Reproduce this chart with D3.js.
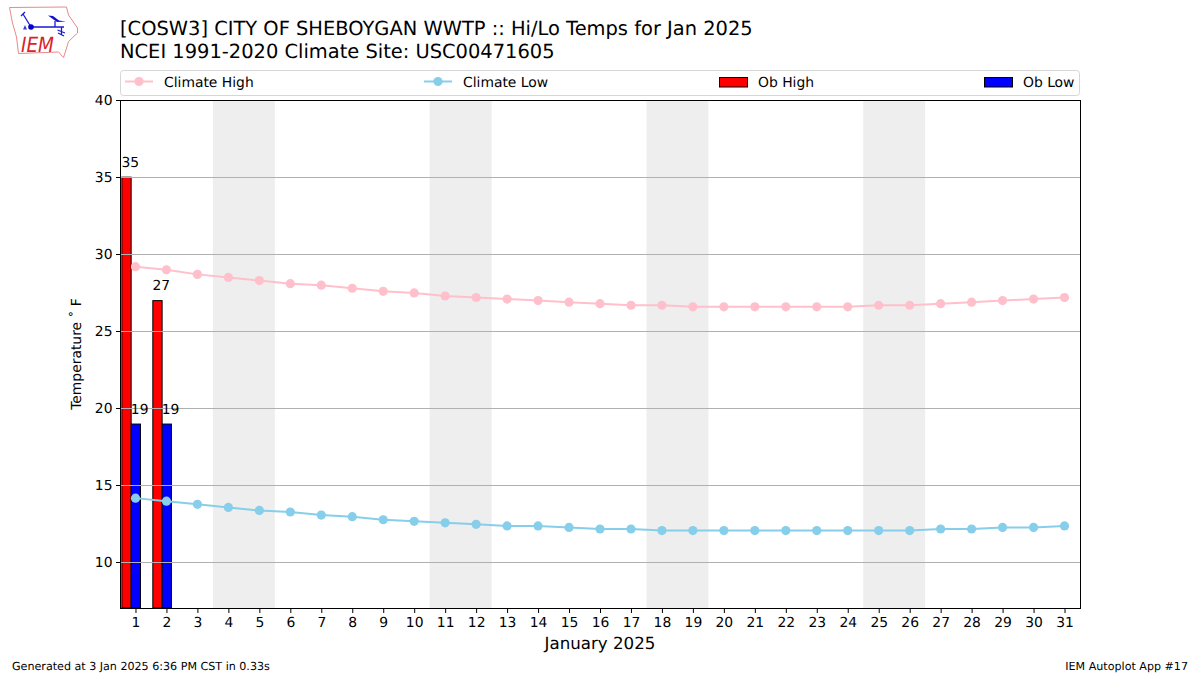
<!DOCTYPE html>
<html><head><meta charset="utf-8">
<script src="https://cdn.jsdelivr.net/npm/d3@7"></script>
<style>html,body{margin:0;padding:0;background:#fff}svg{display:block}text{font-family:"DejaVu Sans",sans-serif;fill:#000;text-rendering:geometricPrecision}</style>
</head><body><svg id="c" width="1200" height="675"></svg>
<script>
const days = d3.range(1, 32);
const climateHigh = [29.2,29.0,28.7,28.5,28.3,28.1,28.0,27.8,27.6,27.5,27.3,27.2,27.1,27.0,26.9,26.8,26.7,26.7,26.6,26.6,26.6,26.6,26.6,26.6,26.7,26.7,26.8,26.9,27.0,27.1,27.2];
const climateLow = [14.2,14.0,13.8,13.6,13.4,13.3,13.1,13.0,12.8,12.7,12.6,12.5,12.4,12.4,12.3,12.2,12.2,12.1,12.1,12.1,12.1,12.1,12.1,12.1,12.1,12.1,12.2,12.2,12.3,12.3,12.4];
const obDays = [1, 2];
const obHigh = [35, 27];
const obLow = [19, 19];
const weekends = [[3.5,5.5],[10.5,12.5],[17.5,19.5],[24.5,26.5]];
const yTicks = [10,15,20,25,30,35,40];
const titleLines = ["[COSW3] CITY OF SHEBOYGAN WWTP :: Hi/Lo Temps for Jan 2025","NCEI 1991-2020 Climate Site: USC00471605"];

const svg = d3.select("#c");
const M = {l:120,r:1080,t:100,b:608};
const x = d3.scaleLinear().domain([0.5,31.5]).range([M.l,M.r]);
const y = d3.scaleLinear().domain([7.08,40]).range([M.b,M.t]);
const snap = v => Math.floor(v)+.5;
const barW = 0.3;

// weekend bands
svg.append("g").selectAll("rect").data(weekends).join("rect")
  .attr("x",d=>x(d[0])).attr("width",d=>x(d[1])-x(d[0]))
  .attr("y",M.t).attr("height",M.b-M.t).attr("fill","#eeeeee");

// bars
const bars = svg.append("g").attr("stroke","#000").attr("stroke-width",1);
bars.selectAll(".hi").data(obDays).join("rect").attr("class","hi")
  .attr("x",d=>x(d-0.44)).attr("width",x(barW)-x(0))
  .attr("y",(d,i)=>y(obHigh[i])).attr("height",(d,i)=>M.b-y(obHigh[i])).attr("fill","#ff0000");
bars.selectAll(".lo").data(obDays).join("rect").attr("class","lo")
  .attr("x",d=>x(d-0.14)).attr("width",x(barW)-x(0))
  .attr("y",(d,i)=>y(obLow[i])).attr("height",(d,i)=>M.b-y(obLow[i])).attr("fill","#0000ff");

// grid
svg.append("g").selectAll("line").data(yTicks.slice(0,-1)).join("line")
  .attr("x1",M.l).attr("x2",M.r).attr("y1",d=>snap(y(d))).attr("y2",d=>snap(y(d)))
  .attr("stroke","#b0b0b0").attr("stroke-width",1);

// climate lines
function series(vals,color){
  const g = svg.append("g");
  g.append("path").attr("d",d3.line().x((d,i)=>x(days[i])).y(d=>y(d))(vals))
   .attr("fill","none").attr("stroke",color).attr("stroke-width",2);
  g.selectAll("circle").data(vals).join("circle")
   .attr("cx",(d,i)=>x(days[i])).attr("cy",d=>y(d)).attr("r",4.6).attr("fill",color);
}
series(climateHigh,"#ffc0cb");
series(climateLow,"#87ceeb");

// bar labels
const lab = svg.append("g").attr("font-size","13.89px");
obDays.forEach((d,i)=>{
  lab.append("text").attr("x",x(d-0.45)).attr("y",y(obHigh[i])-10.5).text(obHigh[i]);
  lab.append("text").attr("x",x(d-0.15)).attr("y",y(obLow[i])-10.5).text(obLow[i]);
});

// frame
svg.append("rect").attr("x",M.l+.5).attr("y",M.t+.5).attr("width",M.r-M.l).attr("height",M.b-M.t)
  .attr("fill","none").attr("stroke","#000").attr("stroke-width",1);

// axes
const ax = svg.append("g").attr("transform",`translate(0,${M.b+.5})`)
  .call(d3.axisBottom(x).tickValues(days).tickFormat(d3.format("d")).tickSize(4.5).tickPadding(4));
const ay = svg.append("g").attr("transform",`translate(${M.l+.5},0)`)
  .call(d3.axisLeft(y).tickValues(yTicks).tickSize(4.5).tickPadding(3.5));
[ax,ay].forEach(a=>{
  a.select(".domain").remove();
  a.selectAll("text").attr("font-size","13.89px").attr("font-family",'"DejaVu Sans"').attr("fill","#000");
  a.selectAll("line").attr("stroke","#000");
});
ay.selectAll(".tick").attr("transform",d=>`translate(0,${snap(y(d))})`);

svg.append("text").attr("x",600).attr("y",649).attr("text-anchor","middle").attr("font-size","16.67px").text("January 2025");
svg.append("text").attr("transform","translate(80.5,354) rotate(-90)").attr("text-anchor","middle").attr("font-size","13.89px").text("Temperature \u02DA F");

// titles
titleLines.forEach((t,i)=>svg.append("text").attr("x",120).attr("y",35+i*22.6).attr("font-size","19.44px").text(t));

// legend
svg.append("rect").attr("x",120.5).attr("y",70.5).attr("width",959).attr("height",25).attr("rx",3)
  .attr("fill","#fff").attr("stroke","#d6d6d6").attr("stroke-width",1);
const legendLine = [{n:"Climate High",c:"#ffc0cb",x:125},{n:"Climate Low",c:"#87ceeb",x:424}];
legendLine.forEach(l=>{
  svg.append("line").attr("x1",l.x).attr("x2",l.x+28).attr("y1",81.5).attr("y2",81.5).attr("stroke",l.c).attr("stroke-width",2);
  svg.append("circle").attr("cx",l.x+14).attr("cy",81.5).attr("r",4.6).attr("fill",l.c);
  svg.append("text").attr("x",l.x+39).attr("y",86.5).attr("font-size","13.89px").text(l.n);
});
const legendBar = [{n:"Ob High",c:"#ff0000",x:719.5},{n:"Ob Low",c:"#0000ff",x:984.5}];
legendBar.forEach(l=>{
  svg.append("rect").attr("x",l.x).attr("y",77.5).attr("width",28).attr("height",9.5).attr("fill",l.c).attr("stroke","#000");
  svg.append("text").attr("x",l.x+38.5).attr("y",86.5).attr("font-size","13.89px").text(l.n);
});

// footer
svg.append("text").attr("x",12).attr("y",670).attr("font-size","11.11px").text("Generated at 3 Jan 2025 6:36 PM CST in 0.33s");
svg.append("text").attr("x",1188).attr("y",670).attr("text-anchor","end").attr("font-size","11.11px").text("IEM Autoplot App #17");

// logo
const logo = svg.append("g");
logo.append("path").attr("d","M9.5,7.5 L66.5,7 L68.5,15 L77.5,28 L77.5,33 L68.5,41.5 L65,53 L63.5,57.5 L58.5,52 L18.5,53.5 L16.5,37 L12.5,23 Z")
  .attr("fill","#fff").attr("stroke","#e88a8a").attr("stroke-width",1);
logo.append("path").attr("d","M31,27 L64,27 M31,27 L23,14 M21,16 L25,12 M55,21 L55,27 M61.5,27 L61.5,35 M57.5,30 L65,33 M58,33 L64,36")
  .attr("fill","none").attr("stroke","#1a1ad6").attr("stroke-width",1.3);
logo.append("path").attr("d","M48,15.5 L53,16 L59,20.5 L66,21.5 L57,22 Z").attr("fill","#1010d8");
logo.append("circle").attr("cx",31).attr("cy",27).attr("r",2.8).attr("fill","#0000d0");
logo.append("path").attr("d","M25,25 L27,29.5 L23,29.5 Z").attr("fill","#3a3ad6");
logo.append("text").attr("x",21).attr("y",51.7).attr("font-family",'"Liberation Serif",serif').attr("font-style","italic")
  .attr("font-size","21px").attr("textLength",33).attr("lengthAdjust","spacingAndGlyphs").style("fill","#d8232a").text("IEM");
</script></body></html>
